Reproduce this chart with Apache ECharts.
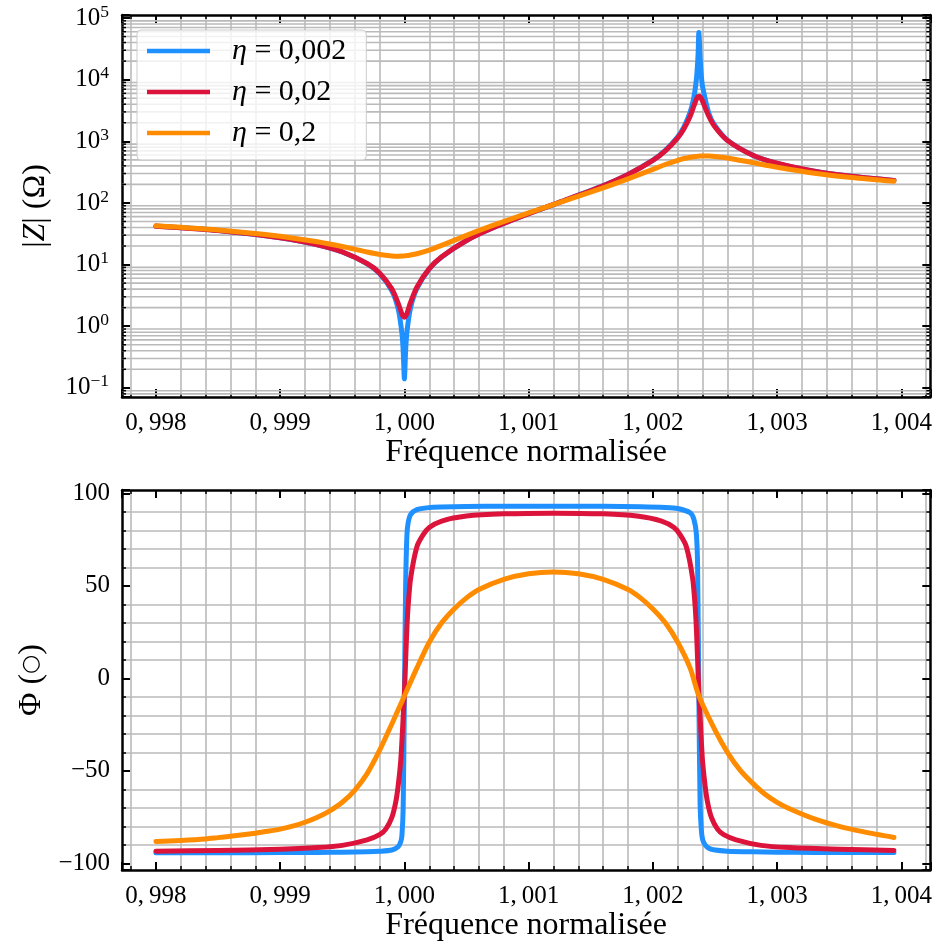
<!DOCTYPE html>
<html><head><meta charset="utf-8">
<script src="https://cdn.jsdelivr.net/npm/echarts@6/dist/echarts.min.js"></script>
<style>html,body{margin:0;padding:0;background:#fff}#c{width:935px;height:945px}</style>
</head><body><div id="c"></div>
<script>
// ---------- data ----------
const seriesNames = ['η = 0,002', 'η = 0,02', 'η = 0,2'];
const seriesColors = ['#1E90FF', '#DC143C', '#FF8C00'];

// |Z| (Ohm) vs normalised frequency
const fTop = [0.998, 0.9985, 0.999, 0.9993, 0.9995, 0.9997, 0.9998, 0.9999, 0.99995, 0.99998, 0.99999, 1.0, 1.00001, 1.00002, 1.00005, 1.0001, 1.0002, 1.0003, 1.0005, 1.0007, 1.001, 1.0013, 1.0016, 1.0018, 1.002, 1.0021, 1.0022, 1.00225, 1.0023, 1.00233, 1.00235, 1.00236, 1.002365, 1.00237, 1.002375, 1.00238, 1.00239, 1.0024, 1.00245, 1.0025, 1.0026, 1.0028, 1.003, 1.0033, 1.0036, 1.00394];
const zBlue = [42.1, 35.7, 27.3, 21.0, 16.0, 10.3, 7.16, 3.72, 1.90, 0.77, 0.41, 0.14, 0.41, 0.80, 1.99, 4.05, 8.5, 13.3, 24.6, 38.5, 67, 112, 191, 290, 496, 713, 1183, 1710, 2975, 5180, 10100, 18600, 30000, 58000, 41000, 23000, 11500, 7650, 2860, 1785, 1045, 601, 439, 327, 270, 231];
const zRed = [42, 35.7, 27.3, 21, 16.1, 10.4, 7.3, 4.0, 2.35, 1.57, 1.45, 1.40, 1.46, 1.6, 2.45, 4.3, 8.6, 13.4, 24.6, 38.5, 67, 112, 190, 290, 490, 700, 1140, 1600, 2550, 3750, 4800, 5200, 5350, 5400, 5380, 5280, 4950, 4450, 2550, 1700, 1030, 600, 440, 327, 270, 231];
const zOrange = [42.6, 36.5, 28.9, 23.4, 19.6, 16.0, 14.6, 13.8, 13.7, 13.75, 13.8, 13.84, 13.9, 14.0, 14.3, 15.0, 17.2, 20.5, 29.8, 42.4, 69, 110, 175, 245, 350, 420, 492, 525, 552, 563, 568, 571, 572, 574, 575, 576, 577, 578, 578, 568, 537, 452, 380, 304, 258, 224];

// Phase (degrees) vs normalised frequency
const fPhBlue = [0.998, 0.9985, 0.999, 0.9993, 0.9995, 0.9997, 0.9998, 0.9999, 0.99995, 0.99997, 0.99998, 0.99999, 1.0, 1.00001, 1.00002, 1.00003, 1.00005, 1.0001, 1.0002, 1.0003, 1.0005, 1.0008, 1.0012, 1.0016, 1.0019, 1.0021, 1.0022, 1.0023, 1.00233, 1.00235, 1.00236, 1.00237, 1.00238, 1.00239, 1.0024, 1.00242, 1.00245, 1.0025, 1.0026, 1.0028, 1.003, 1.0033, 1.0036, 1.00394];
const phBlue = [-94.3, -94.3, -94.2, -94.1, -94.0, -93.8, -93.5, -92.8, -91.0, -88.5, -85, -70, -10, 50, 77, 84, 88.5, 91.2, 92.3, 92.6, 92.9, 93.0, 93.0, 93.0, 92.8, 92.4, 91.8, 89.5, 86, 78, 60, -10, -68, -82, -87, -90, -91.8, -92.8, -93.4, -93.8, -94.0, -94.1, -94.2, -94.2];
const fPhRed = [0.998, 0.9985, 0.999, 0.9993, 0.9995, 0.9997, 0.9998, 0.99985, 0.9999, 0.99993, 0.99995, 0.99997, 0.99998, 0.99999, 1.0, 1.00001, 1.00002, 1.00003, 1.00005, 1.0001, 1.00015, 1.0002, 1.0003, 1.0005, 1.0008, 1.0012, 1.0016, 1.00187, 1.00207, 1.00217, 1.00222, 1.00227, 1.00232, 1.00234, 1.00235, 1.00236, 1.00237, 1.00238, 1.00239, 1.0024, 1.00242, 1.00244, 1.00247, 1.00252, 1.00257, 1.00267, 1.00287, 1.0031, 1.0035, 1.00394];
const phRed = [-93.4, -93.0, -92.4, -91.5, -90.3, -87.3, -84.5, -81.5, -75, -67, -58, -45, -34, -21, -8, 10, 27, 39, 54, 71, 77.5, 81.5, 85, 87.7, 88.9, 89.3, 88.9, 87.7, 85, 81.5, 77.5, 71, 54, 39, 27, 10, -8, -21, -34, -45, -58, -67, -75, -81.5, -84.5, -87.3, -90.3, -91.5, -92.4, -93.0];
const fPhOrange = [0.998, 0.9982, 0.9984, 0.9985, 0.9986, 0.9987, 0.9988, 0.9989, 0.999, 0.9991, 0.9992, 0.9993, 0.9994, 0.9995, 0.9996, 0.9997, 0.9998, 0.9999, 1.0, 1.0001, 1.0002, 1.0003, 1.0004, 1.0005, 1.0006, 1.0008, 1.001, 1.0012, 1.0014, 1.0016, 1.0018, 1.0019, 1.002, 1.0021, 1.0022, 1.0023, 1.00237, 1.0025, 1.0026, 1.0027, 1.0028, 1.0029, 1.003, 1.0031, 1.0033, 1.0035, 1.0037, 1.00394];
const phOrange = [-88.2, -87.6, -86.8, -86.1, -85.4, -84.6, -83.7, -82.7, -81.5, -79.9, -77.8, -75.1, -71.6, -67, -60.5, -51.5, -39, -24.5, -9.5, 5.5, 19.5, 30, 37.5, 43.5, 48, 53.5, 56.5, 57.5, 56.5, 53.5, 48, 43.5, 37.5, 30, 19.5, 5.5, -9.5, -28, -40, -49.5, -56.5, -62.5, -67, -70.5, -76, -80, -83, -86];

// axis ranges and tick helpers
const xRange = [0.997727, 1.004233];
const zRange = [0.0711, 111900];
const phRange = [-103.6, 101.8];
const logDecades = [-2, -1, 0, 1, 2, 3, 4, 5];
const logMultipliers = [2, 3, 4, 5, 6, 7, 8, 9];
const xAxisTitle = 'Fréquence normalisée';
const zAxisTitle = '|{i|Z}| (Ω)';
const phAxisTitle = 'Φ ({c|○})';

// ---------- chart ----------
const FONT = '"Liberation Serif", "DejaVu Serif", serif';
const logMinor = [];
logDecades.forEach(d => logMultipliers.forEach(m => {
  const v = m * Math.pow(10, d);
  if (v > zRange[0] && v < zRange[1]) logMinor.push(v);
}));

function xLabel(v) {
  const k = v * 1000;
  if (Math.abs(k - Math.round(k)) > 1e-6) return '';
  return v.toFixed(3).replace('.', ',\u2009');
}
function logLabel(v) {
  const e = Math.log10(v);
  const r = Math.round(e);
  if (Math.abs(e - r) > 1e-6) return '';
  return '{b|10}{s|' + (r < 0 ? '\u2212' + (-r) : r) + '}';
}
function phLabel(v) {
  if (Math.abs(v / 50 - Math.round(v / 50)) > 1e-6) return '';
  return v < 0 ? '\u2212' + (-v) : String(v);
}

const spine = {show: true, onZero: false, lineStyle: {color: '#000', width: 2.5}};
const tick = {show: true, inside: true, length: 8, lineStyle: {color: '#000', width: 2}};
const minorTick = {show: true, splitNumber: 5, length: 4, lineStyle: {color: '#000', width: 1.5}};
const gridColor = '#bababa';
const minorGrid = {show: true, lineStyle: {color: gridColor, width: 1.6}};
const labelFont = {fontFamily: FONT, fontSize: 25, color: '#000'};
const nameFont = {fontFamily: FONT, fontSize: 32, color: '#000',
  rich: {i: {fontFamily: FONT, fontSize: 32, fontStyle: 'italic', color: '#000'},
         c: {fontFamily: '"DejaVu Sans", sans-serif', fontSize: 22, color: '#000'}}};

function xAx(grid, pos, withLabels) {
  return {
    type: 'value', gridIndex: grid, position: pos, min: xRange[0], max: xRange[1],
    axisLine: spine, axisTick: tick, minorTick: minorTick,
    splitLine: {show: false}, minorSplitLine: withLabels ? minorGrid : {show: false},
    axisLabel: withLabels ? Object.assign({show: true, margin: 14, formatter: xLabel}, labelFont) : {show: false},
    name: withLabels ? xAxisTitle : '', nameLocation: 'middle', nameGap: 39, nameTextStyle: nameFont
  };
}

const option = {
  animation: false,
  backgroundColor: '#fff',
  color: seriesColors,
  grid: [
    {left: 122, right: 3, top: 15, height: 382},
    {left: 122, right: 3, top: 490, height: 380}
  ],
  legend: {
    data: seriesNames, orient: 'vertical', left: 137, top: 30,
    icon: 'rect', itemWidth: 63, itemHeight: 4.5, itemGap: 11,
    padding: [6, 20, 12, 10],
    backgroundColor: 'rgba(255,255,255,0.8)', borderColor: '#cccccc', borderWidth: 1, borderRadius: 4,
    formatter: n => '{i|η}' + n.slice(1),
    textStyle: {fontFamily: FONT, fontSize: 30, lineHeight: 30, color: '#000', padding: [0, 0, 0, 17],
      rich: {i: {fontFamily: FONT, fontSize: 30, fontStyle: 'italic', color: '#000'}}}
  },
  xAxis: [xAx(0, 'bottom', true), xAx(0, 'top', false), xAx(1, 'bottom', true), xAx(1, 'top', false)],
  yAxis: [
    {type: 'log', gridIndex: 0, position: 'left', min: zRange[0], max: zRange[1],
     axisLine: spine, axisTick: tick, splitLine: {show: false}, minorTick: {show: false},
     axisLabel: {show: true, margin: 13, formatter: logLabel,
       rich: {b: {fontFamily: FONT, fontSize: 25, color: '#000', lineHeight: 30},
              s: {fontFamily: FONT, fontSize: 17.5, color: '#000', verticalAlign: 'top', lineHeight: 18}}},
     name: zAxisTitle, nameLocation: 'middle', nameRotate: 90, nameGap: 70, nameTextStyle: nameFont},
    {type: 'log', gridIndex: 0, position: 'right', min: zRange[0], max: zRange[1],
     axisLine: spine, axisTick: tick, splitLine: {show: false}, minorTick: {show: false}, axisLabel: {show: false}},
    {type: 'value', gridIndex: 1, position: 'left', min: phRange[0], max: phRange[1],
     axisLine: spine, axisTick: tick, minorTick: minorTick, splitLine: {show: false}, minorSplitLine: minorGrid,
     axisLabel: Object.assign({show: true, margin: 12, formatter: phLabel}, labelFont),
     name: phAxisTitle, nameLocation: 'middle', nameRotate: 90, nameGap: 70, nameTextStyle: nameFont},
    {type: 'value', gridIndex: 1, position: 'right', min: phRange[0], max: phRange[1],
     axisLine: spine, axisTick: tick, minorTick: minorTick, splitLine: {show: false}, axisLabel: {show: false}}
  ],
  series: []
};

// log-scale minor grid lines and minor ticks (top panel)
option.series.push({
  type: 'custom', xAxisIndex: 0, yAxisIndex: 0, silent: true, z: 1,
  data: logMinor.map(v => [xRange[0], v]),
  renderItem: function (params, api) {
    const cs = params.coordSys;
    const y = api.coord([api.value(0), api.value(1)])[1];
    return {type: 'group', children: [
      {type: 'line', shape: {x1: cs.x, y1: y, x2: cs.x + cs.width, y2: y}, style: {stroke: gridColor, lineWidth: 1.6}},
      {type: 'line', shape: {x1: cs.x, y1: y, x2: cs.x + 4, y2: y}, style: {stroke: '#000', lineWidth: 1.5}},
      {type: 'line', shape: {x1: cs.x + cs.width - 4, y1: y, x2: cs.x + cs.width, y2: y}, style: {stroke: '#000', lineWidth: 1.5}}
    ]};
  }
});

const topSets = [zBlue, zRed, zOrange];
const phSets = [[fPhBlue, phBlue], [fPhRed, phRed], [fPhOrange, phOrange]];
function lineSeries(name, k, xi, yi, data) {
  return {
    type: 'line', name: name, xAxisIndex: xi, yAxisIndex: yi, z: 3 + k,
    showSymbol: false, symbol: 'none', color: seriesColors[k],
    smooth: 0.25,
    lineStyle: {width: 5, color: seriesColors[k], cap: 'round', join: 'round'},
    data: data
  };
}
seriesNames.forEach((name, k) => {
  option.series.push(lineSeries(name, k, 0, 0, fTop.map((f, i) => [f, topSets[k][i]])));
});
seriesNames.forEach((name, k) => {
  option.series.push(lineSeries(name, k, 2, 2, phSets[k][0].map((f, i) => [f, phSets[k][1][i]])));
});

const chart = echarts.init(document.getElementById('c'), null, {renderer: 'canvas', width: 935, height: 945});
chart.setOption(option);
</script>
</body></html>
